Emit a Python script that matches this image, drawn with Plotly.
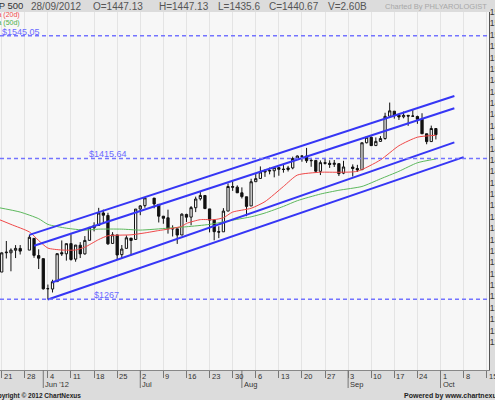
import numpy as np
import pandas as pd
import plotly.graph_objects as go

# ---------------- DATA ----------------
holidays = ["2012-05-28", "2012-07-04", "2012-09-03"]
dates = [d for d in pd.bdate_range("2012-05-21", "2012-09-28").strftime("%Y-%m-%d") if d not in holidays]

opens = [
    1295.73, 1316.09, 1316.02, 1318.72, 1320.64,
    1318.90, 1331.25, 1313.09, 1309.87,
    1278.29, 1277.82, 1285.61, 1316.15, 1314.99,
    1325.72, 1309.40, 1324.02, 1314.88, 1329.19,
    1342.42, 1344.83, 1358.04, 1355.43, 1325.92,
    1334.90, 1314.09, 1320.71, 1331.52, 1330.12,
    1362.33, 1365.75, 1373.72, 1367.09,
    1354.66, 1352.96, 1341.40, 1341.29, 1334.81,
    1356.50, 1353.68, 1363.58, 1373.01, 1376.51,
    1362.34, 1350.52, 1338.35, 1338.17, 1360.05,
    1385.94, 1385.27, 1379.32, 1375.13, 1365.45,
    1391.04, 1394.46, 1401.23, 1402.26, 1402.58,
    1405.87, 1404.36, 1403.89, 1405.57, 1415.84,
    1417.85, 1418.13, 1413.09, 1413.49, 1401.99,
    1411.13, 1410.44, 1409.32, 1410.08, 1400.07,
    1406.54, 1404.94, 1403.74, 1432.12,
    1437.92, 1429.13, 1433.56, 1436.56, 1460.07,
    1465.42, 1461.19, 1459.50, 1461.05, 1460.34,
    1459.76, 1456.94, 1441.60, 1433.36, 1447.13,
]
highs = [
    1316.39, 1328.49, 1320.71, 1324.14, 1324.20,
    1334.93, 1331.25, 1319.74, 1309.87,
    1282.55, 1287.62, 1315.13, 1329.05, 1325.81,
    1335.52, 1324.31, 1327.28, 1333.68, 1343.32,
    1348.22, 1363.46, 1361.57, 1358.27, 1337.82,
    1334.90, 1324.24, 1334.40, 1331.52, 1362.17,
    1366.35, 1374.81, 1373.85, 1367.09,
    1354.87, 1361.54, 1345.00, 1341.29, 1357.70,
    1357.26, 1365.36, 1375.26, 1380.39, 1376.51,
    1362.34, 1351.53, 1343.98, 1363.13, 1389.19,
    1391.74, 1387.16, 1385.03, 1375.13, 1394.16,
    1399.63, 1407.14, 1404.14, 1405.95, 1405.98,
    1405.87, 1410.03, 1407.73, 1417.44, 1418.71,
    1418.13, 1426.68, 1416.12, 1413.49, 1413.46,
    1416.17, 1413.63, 1413.95, 1410.08, 1413.09,
    1409.31, 1408.81, 1432.12, 1437.92,
    1438.74, 1437.76, 1439.15, 1463.76, 1474.51,
    1465.63, 1461.47, 1465.05, 1461.23, 1467.07,
    1460.72, 1463.24, 1441.60, 1450.20, 1447.13,
]
lows = [
    1295.73, 1310.04, 1296.53, 1310.50, 1314.23,
    1318.90, 1310.76, 1298.90, 1277.25,
    1266.74, 1274.16, 1285.61, 1312.68, 1307.77,
    1307.73, 1306.62, 1310.51, 1314.14, 1329.19,
    1338.61, 1344.83, 1346.45, 1324.41, 1325.92,
    1309.27, 1310.30, 1320.71, 1313.29, 1330.12,
    1355.70, 1363.53, 1363.02, 1348.03,
    1346.65, 1336.27, 1333.25, 1325.41, 1334.81,
    1348.51, 1345.07, 1358.96, 1371.21, 1362.19,
    1337.56, 1329.24, 1331.50, 1338.17, 1360.05,
    1381.37, 1379.17, 1373.35, 1354.65, 1365.45,
    1391.04, 1394.46, 1396.13, 1398.80, 1395.62,
    1397.32, 1400.60, 1401.83, 1404.15, 1414.67,
    1412.12, 1410.86, 1406.78, 1400.50, 1398.04,
    1409.11, 1405.59, 1406.57, 1397.01, 1398.96,
    1396.56, 1401.25, 1403.74, 1431.45,
    1428.98, 1429.13, 1432.99, 1435.34, 1460.07,
    1457.55, 1456.13, 1457.88, 1449.98, 1459.51,
    1452.06, 1441.59, 1430.53, 1433.36, 1435.60,
]
closes = [
    1315.99, 1316.63, 1318.86, 1320.68, 1317.82,
    1332.42, 1313.32, 1310.33, 1278.04,
    1278.18, 1285.50, 1315.13, 1314.99, 1325.66,
    1308.93, 1324.18, 1314.88, 1329.10, 1342.84,
    1344.78, 1357.98, 1355.69, 1325.51, 1335.02,
    1313.72, 1319.99, 1331.85, 1329.04, 1362.16,
    1365.51, 1374.02, 1367.58, 1354.68,
    1352.46, 1341.47, 1341.45, 1334.76, 1356.78,
    1353.64, 1363.67, 1372.78, 1376.51, 1362.66,
    1350.52, 1338.31, 1337.89, 1360.02, 1385.97,
    1385.30, 1379.32, 1375.32, 1365.00, 1390.99,
    1394.23, 1401.35, 1402.22, 1402.80, 1405.87,
    1404.11, 1403.93, 1405.53, 1415.51, 1418.16,
    1418.13, 1413.17, 1413.49, 1402.08, 1411.13,
    1410.44, 1409.30, 1410.49, 1399.48, 1406.58,
    1404.94, 1403.44, 1432.12, 1437.92,
    1429.08, 1433.56, 1436.56, 1459.99, 1465.77,
    1461.19, 1459.32, 1461.05, 1460.26, 1460.15,
    1456.89, 1441.59, 1433.32, 1447.15, 1440.67,
]

# moving averages
ma20_dates = ["2012-05-18", "2012-05-23", "2012-05-29", "2012-05-31", "2012-06-04", "2012-06-07",
              "2012-06-12", "2012-06-14", "2012-06-19", "2012-06-21", "2012-06-28", "2012-07-03",
              "2012-07-06", "2012-07-10", "2012-07-13", "2012-07-16", "2012-07-19", "2012-07-24",
              "2012-07-26", "2012-07-30", "2012-08-03", "2012-08-08", "2012-08-14", "2012-08-17",
              "2012-08-24", "2012-08-30", "2012-09-05", "2012-09-12", "2012-09-18", "2012-09-24",
              "2012-09-28"]
ma20_vals = [1352, 1346, 1338, 1329, 1321, 1319,
             1319, 1322, 1330, 1334, 1335, 1337,
             1339.5, 1341, 1344, 1347, 1351, 1351,
             1353, 1359, 1363, 1370, 1386, 1398,
             1401, 1401, 1402, 1414, 1429, 1438,
             1440]
ma50_dates = ["2012-05-18", "2012-05-25", "2012-05-31", "2012-06-04", "2012-06-08", "2012-06-14",
              "2012-06-19", "2012-06-26", "2012-07-02", "2012-07-10", "2012-07-16", "2012-07-23",
              "2012-07-30", "2012-08-03", "2012-08-08", "2012-08-14", "2012-08-17", "2012-08-24",
              "2012-08-30", "2012-09-06", "2012-09-12", "2012-09-18", "2012-09-24", "2012-09-28"]
ma50_vals = [1364, 1359, 1352, 1346, 1342, 1340,
             1341, 1341, 1340, 1342, 1343.5, 1346,
             1350.5, 1354, 1358, 1365, 1371, 1378,
             1382, 1386, 1394, 1402, 1411, 1415]

level_vals = [1545.05, 1415.64, 1267.00]
level_labels = ["$1545.05", "$1415.64", "$1267"]
level_label_dates = ["2012-05-21", "2012-06-15", "2012-06-18"]

channel_start_dates = ["2012-05-29", "2012-05-30", "2012-06-05", "2012-06-04"]
channel_start_vals = [1334.9, 1323.5, 1285.0, 1266.7]
channel_end_dates = ["2012-10-04", "2012-10-04", "2012-10-04", "2012-10-08"]
channel_end_vals = [1481.5, 1468.5, 1432.5, 1417.0]

week_ticks = pd.date_range("2012-05-21", "2012-10-15", freq="W-MON")
week_labels = [str(d.day) for d in week_ticks]
month_dates = ["2012-06-01", "2012-07-02", "2012-08-01", "2012-09-03", "2012-10-01"]
month_labels = ["Jun '12", "Jul", "Aug", "Sep", "Oct"]

y_label_vals = list(range(1222, 1571, 12))
y_grid_vals = list(range(1222, 1571, 24))

header_texts = ["28/09/2012", "O=1447.13", "H=1447.13", "L=1435.6", "C=1440.67", "V=2.60B"]
header_px = [30, 92, 158, 217, 268, 327]

# ---------------- LAYOUT HELPERS ----------------
W, H = 495, 400
PL, PR, PT, PB = 0, 489, 12, 370
origin = np.datetime64("2012-05-21")


def pos(d):
    return float(np.busday_count(origin, np.datetime64(pd.Timestamp(d).date())))


def px(x):
    return (x - PL) / (PR - PL)


def py(y):
    return (PB - y) / (PB - PT)


FONT = "Liberation Sans"
fig = go.Figure()

fig.add_trace(go.Candlestick(
    x=[pos(d) for d in dates], open=opens, high=highs, low=lows, close=closes,
    increasing=dict(line=dict(color="#111111", width=1), fillcolor="#ffffff"),
    decreasing=dict(line=dict(color="#111111", width=1), fillcolor="#111111"),
    whiskerwidth=0, showlegend=False, hoverinfo="skip"))

fig.add_trace(go.Scatter(x=[pos(d) for d in ma50_dates], y=ma50_vals, mode="lines",
                         line=dict(color="#5cb85c", width=1, shape="spline", smoothing=0.6),
                         showlegend=False, hoverinfo="skip"))
fig.add_trace(go.Scatter(x=[pos(d) for d in ma20_dates], y=ma20_vals, mode="lines",
                         line=dict(color="#f04848", width=1, shape="spline", smoothing=0.6),
                         showlegend=False, hoverinfo="skip"))

for sd, sv, ed, ev in zip(channel_start_dates, channel_start_vals, channel_end_dates, channel_end_vals):
    fig.add_trace(go.Scatter(x=[pos(sd), pos(ed)], y=[sv, ev], mode="lines",
                             line=dict(color="#3636f5", width=2),
                             showlegend=False, hoverinfo="skip"))

shapes = []
for v in level_vals:
    shapes.append(dict(type="line", xref="paper", x0=0, x1=1, yref="y", y0=v, y1=v,
                       line=dict(color="#7474ff", width=1.5, dash="4px,3px"), layer="above"))
for d in month_dates:
    shapes.append(dict(type="line", xref="x", x0=pos(d), x1=pos(d), yref="paper",
                       y0=0, y1=py(388), line=dict(color="#777777", width=1)))

ann = []
for lab, d, v in zip(level_labels, level_label_dates, level_vals):
    ann.append(dict(x=pos(d), y=v, xref="x", yref="y", text=lab, showarrow=False,
                    xanchor="left", yanchor="bottom", xshift=-2, yshift=-3,
                    font=dict(family=FONT, size=9, color="#6a6aff")))
for d, lab in zip(week_ticks, week_labels):
    ann.append(dict(x=pos(d), y=py(376), xref="x", yref="paper", text=lab, showarrow=False,
                    xanchor="left", yanchor="middle", xshift=0,
                    font=dict(family=FONT, size=7.5, color="#333333")))
for d, lab in zip(month_dates, month_labels):
    ann.append(dict(x=pos(d), y=py(384.5), xref="x", yref="paper", text=lab, showarrow=False,
                    xanchor="left", yanchor="middle", xshift=0,
                    font=dict(family=FONT, size=7.5, color="#333333")))

ann.append(dict(x=px(25), y=py(5.5), xref="paper", yref="paper", text="S&P 500", showarrow=False,
                xanchor="right", yanchor="middle", font=dict(family=FONT, size=9.5, color="#333333")))
for t, p in zip(header_texts, header_px):
    ann.append(dict(x=px(p), y=py(6), xref="paper", yref="paper", text=t, showarrow=False,
                    xanchor="left", yanchor="middle", xshift=-1,
                    font=dict(family=FONT, size=10, color="#555555")))
ann.append(dict(x=px(489), y=py(6), xref="paper", yref="paper", text="Charted By PHLYAROLOGIST",
                showarrow=False, xanchor="right", yanchor="middle",
                font=dict(family=FONT, size=7.5, color="#a8a8a8")))
ann.append(dict(x=px(22), y=py(15.5), xref="paper", yref="paper", text="Ema (20d)", showarrow=False,
                xanchor="right", yanchor="middle", font=dict(family=FONT, size=7, color="#f04848")))
ann.append(dict(x=px(22), y=py(23.5), xref="paper", yref="paper", text="Ema (50d)", showarrow=False,
                xanchor="right", yanchor="middle", font=dict(family=FONT, size=7, color="#4cae4c")))
ann.append(dict(x=px(83), y=py(395.5), xref="paper", yref="paper", text="<b>Copyright © 2012 ChartNexus</b>",
                showarrow=False, xanchor="right", yanchor="middle",
                font=dict(family=FONT, size=6.5, color="#222222")))
ann.append(dict(x=px(402), y=py(395.5), xref="paper", yref="paper", text="<b>Powered by www.chartnexus.com</b>",
                showarrow=False, xanchor="left", yanchor="middle",
                font=dict(family=FONT, size=7, color="#222222")))

yr = [1192.4, 1570.05]
fig.update_layout(
    width=W, height=H, autosize=False,
    margin=dict(l=PL, r=W - PR, t=PT, b=H - PB, pad=0, autoexpand=False),
    paper_bgcolor="#dcdcdc", plot_bgcolor="#f7f7f7",
    shapes=shapes, annotations=ann,
    xaxis=dict(range=[-0.37, 105.5], tickvals=[pos(d) for d in week_ticks], showticklabels=False,
               ticks="outside", ticklen=7, tickcolor="#777777", tickwidth=1,
               showgrid=True, gridcolor="#e4e4e4", gridwidth=1, zeroline=False,
               showline=True, linecolor="#888888", linewidth=1, automargin=False,
               rangeslider=dict(visible=False), fixedrange=True),
    yaxis=dict(range=yr, side="right", tickvals=y_label_vals, ticks="", showgrid=False,
               ticklabelstandoff=-2,
               zeroline=False, showline=True, linecolor="#555555", linewidth=1, automargin=False,
               tickfont=dict(family=FONT, size=8.5, color="#333333"), fixedrange=True),
    yaxis2=dict(range=yr, overlaying="y", side="left", tickvals=y_grid_vals, showticklabels=False,
                ticks="", showgrid=True, gridcolor="#e4e4e4", gridwidth=1, zeroline=False,
                showline=False, automargin=False, fixedrange=True),
)

fig.write_html("out.html", config={"displayModeBar": False},
               post_script="document.body.style.margin='0';document.body.style.overflow='hidden';")
